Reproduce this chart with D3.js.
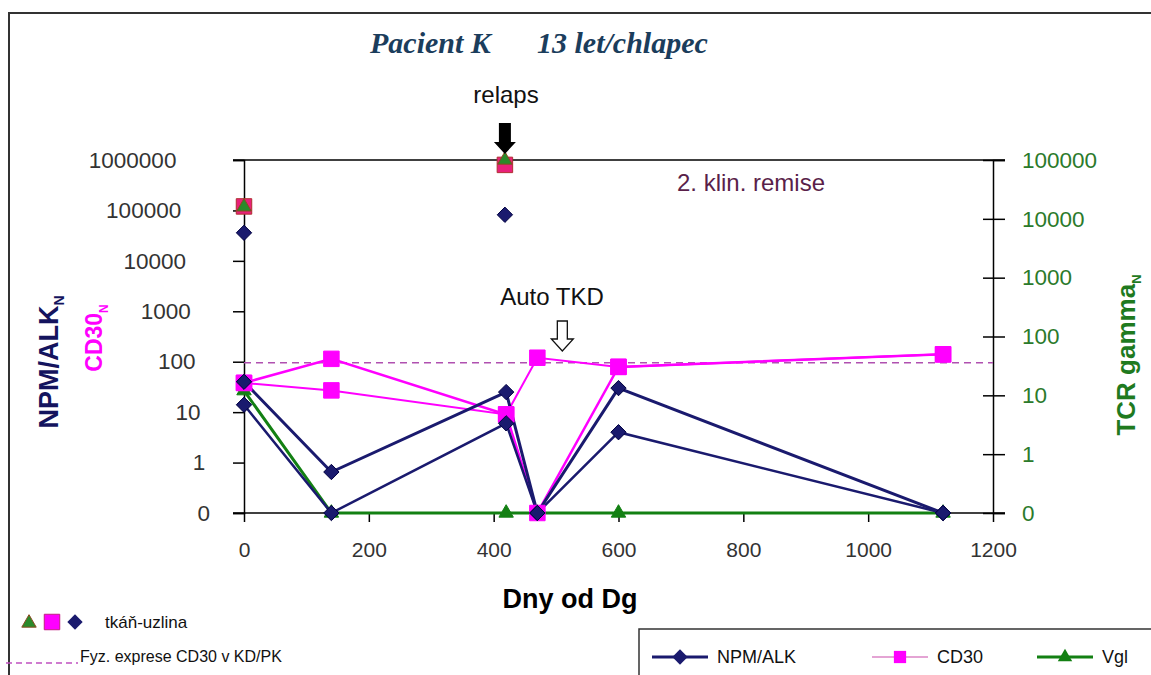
<!DOCTYPE html>
<html>
<head>
<meta charset="utf-8">
<script src="https://cdn.jsdelivr.net/npm/d3@7"></script>
<style>
  body { margin: 0; background: #fff; }
</style>
</head>
<body>
<div id="chart-area"></div>
<script>
// day points of the follow-up
var days = [0, 140, 420, 470, 600, 1120];

// two NPM/ALK series (left axis)
var npmA = [40, 0.65, 25, 0.1, 30, 0.1];
var npmB = [14, 0.1, 6, 0.1, 4, 0.1];

// two CD30 series (left axis)
var cd30A = [38, 114, 9, 0.1, 79, 140];
var cd30B = [38, 27, 9, 120, 79, 140];

// TCR gamma (right axis)
var vgl = [12, 0.1, 0.1, 0.1, 0.1, 0.1];

// tissue (lymph node) samples
var tissueDays = [0, 418];
var tissueNpm = [36000, 82000];
var tissueCd30 = [120000, 800000];
var tissueVgl = [16000, 100000];

// physiological CD30 level in KD/PK
var cd30Normal = 95;

var leftTicks = [0.1, 1, 10, 100, 1000, 10000, 100000, 1000000];
var rightTicks = [0.1, 1, 10, 100, 1000, 10000, 100000];
var xTicks = [0, 200, 400, 600, 800, 1000, 1200];

var W = 1151, H = 675;
var NAVY = "#1a1a6e", MAG = "#ff00ff", GREEN = "#138013";

var svg = d3.select("#chart-area")
    .append("svg")
    .attr("width", W)
    .attr("height", H)
    .attr("font-family", "Liberation Sans, Arial, sans-serif");

// outer frame (top + left edge of the picture)
svg.append("path")
    .attr("d", "M9,675 V13 H1151")
    .attr("fill", "none")
    .attr("stroke", "#333")
    .attr("stroke-width", 2);

var x = d3.scaleLinear().domain([0, 1200]).range([244, 993]);
var yL = d3.scaleLog().domain([0.1, 1e6]).range([513, 160]);
var yR = d3.scaleLog().domain([0.1, 1e5]).range([513, 160]);

var fmt = function (d) { return d < 1 ? "0" : String(d) };

// top border of the plot
svg.append("line")
    .attr("x1", 233).attr("x2", 1005)
    .attr("y1", yL(1e6)).attr("y2", yL(1e6))
    .attr("stroke", "#000").attr("stroke-width", 1.5);

// LEFT AXIS
var gl = svg.append("g")
    .attr("transform", "translate(244,0)")
    .call(d3.axisLeft(yL).tickValues(leftTicks).tickFormat(fmt).tickSize(11).tickPadding(30));
// labels drift leftwards going up, as in the original
gl.selectAll(".tick text")
    .attr("x", function (d) { return -34 - 4.8 * (Math.log10(d) + 1) })
    .attr("font-size", "22.5px").attr("fill", "#333");

// RIGHT AXIS
var gr = svg.append("g")
    .attr("transform", "translate(993,0)")
    .call(d3.axisRight(yR).tickValues(rightTicks).tickFormat(fmt).tickSize(12).tickPadding(17));
gr.selectAll(".tick line").attr("x1", -10);
gr.selectAll("text").attr("font-size", "22.5px").attr("fill", "#2b7a2b");

// X AXIS
var gx = svg.append("g")
    .attr("transform", "translate(0,513)")
    .call(d3.axisBottom(x).tickValues(xTicks).tickFormat(d3.format("d")).tickSize(9).tickPadding(20));
gx.selectAll("text").attr("font-size", "21px").attr("fill", "#333");
gx.select(".domain").attr("d", "M233,0H1005");

svg.selectAll(".domain").attr("stroke", "#000").attr("stroke-width", 1.5);
svg.selectAll(".tick line").attr("stroke", "#000").attr("stroke-width", 1.5);

// physiological CD30 dashed line
svg.append("line")
    .attr("x1", x(0)).attr("x2", x(1200))
    .attr("y1", yL(cd30Normal)).attr("y2", yL(cd30Normal))
    .attr("stroke", "#b050b0").attr("stroke-width", 1.5)
    .attr("stroke-dasharray", "7,5");

function series(vals) {
    return days.map(function (d, i) { return { x: d, y: vals[i] } });
}

function drawLine(vals, scale, color, w) {
    var line = d3.line()
        .x(function (d) { return x(d.x) })
        .y(function (d) { return scale(d.y) });
    svg.append("path")
        .datum(series(vals))
        .attr("d", line)
        .attr("fill", "none")
        .attr("stroke", color)
        .attr("stroke-width", w);
}

var sym = {
    diamond: d3.symbol().type(d3.symbolDiamond2).size(150),
    square: d3.symbol().type(d3.symbolSquare).size(240),
    triangle: d3.symbol().type(d3.symbolTriangle).size(90)
};

function drawMarks(xs, vals, scale, shape, fill, stroke) {
    svg.append("g").selectAll("path")
        .data(xs.map(function (d, i) { return { x: d, y: vals[i] } }))
        .enter()
        .append("path")
        .attr("transform", function (d) { return "translate(" + x(d.x) + "," + scale(d.y) + ")" })
        .attr("d", sym[shape])
        .attr("fill", fill)
        .attr("stroke", stroke)
        .attr("stroke-width", 1);
}

drawLine(vgl, yR, GREEN, 3);
drawLine(cd30A, yL, MAG, 2.5);
drawLine(cd30B, yL, MAG, 2);
drawLine(npmA, yL, NAVY, 3);
drawLine(npmB, yL, NAVY, 2.5);

drawMarks(days, vgl, yR, "triangle", GREEN, GREEN);
drawMarks(days, cd30A, yL, "square", MAG, MAG);
drawMarks(days, cd30B, yL, "square", MAG, MAG);
drawMarks(days, npmA, yL, "diamond", NAVY, "#000040");
drawMarks(days, npmB, yL, "diamond", NAVY, "#000040");

// tissue samples
drawMarks(tissueDays, tissueCd30, yL, "square", "#e8207a", "#b03030");
drawMarks(tissueDays, tissueVgl, yR, "triangle", "#2a8a2a", "#8a4a20");
drawMarks(tissueDays, tissueNpm, yL, "diamond", NAVY, "#000040");

// TITLE
var title = svg.append("text")
    .attr("y", 53)
    .attr("font-family", "Liberation Serif, serif")
    .attr("font-weight", "bold")
    .attr("font-style", "italic")
    .attr("font-size", "30px")
    .attr("fill", "#1b3d5c");
title.append("tspan").attr("x", 370).text("Pacient K");
title.append("tspan").attr("x", 537).text("13 let/chlapec");

// annotations
svg.append("text")
    .attr("x", 506).attr("y", 103)
    .attr("text-anchor", "middle")
    .attr("font-size", "24px")
    .attr("fill", "#111")
    .text("relaps");

var ax = x(418);
svg.append("path")
    .attr("d", "M" + (ax - 6) + ",123 h12 v19 h5 l-11,12 l-11,-12 h5 z")
    .attr("fill", "#000");

svg.append("text")
    .attr("x", 677).attr("y", 191)
    .attr("font-size", "24px")
    .attr("fill", "#5a1f4a")
    .text("2. klin. remise");

svg.append("text")
    .attr("x", 552).attr("y", 305)
    .attr("text-anchor", "middle")
    .attr("font-size", "24px")
    .attr("fill", "#111")
    .text("Auto TKD");

var bx = x(510);
svg.append("path")
    .attr("d", "M" + (bx - 5) + ",321 h10 v18 h6 l-11,12 l-11,-12 h6 z")
    .attr("fill", "#fff")
    .attr("stroke", "#111")
    .attr("stroke-width", 1.3);

// AXIS LABELS
var l1 = svg.append("text")
    .attr("transform", "translate(58,362) rotate(-90)")
    .attr("text-anchor", "middle")
    .attr("font-weight", "bold")
    .attr("font-size", "27px")
    .attr("fill", "#14145e");
l1.append("tspan").text("NPM/ALK");
l1.append("tspan").attr("font-size", "14px").attr("dy", 6).text("N");

var l2 = svg.append("text")
    .attr("transform", "translate(102,338) rotate(-90)")
    .attr("text-anchor", "middle")
    .attr("font-weight", "bold")
    .attr("font-size", "23px")
    .attr("fill", MAG);
l2.append("tspan").text("CD30");
l2.append("tspan").attr("font-size", "12px").attr("dy", 6).text("N");

var l3 = svg.append("text")
    .attr("transform", "translate(1135,355) rotate(-90)")
    .attr("text-anchor", "middle")
    .attr("font-weight", "bold")
    .attr("font-size", "26px")
    .attr("fill", "#1f7a1f");
l3.append("tspan").text("TCR gamma");
l3.append("tspan").attr("font-size", "13px").attr("dy", 6).text("N");

svg.append("text")
    .attr("x", 570).attr("y", 608)
    .attr("text-anchor", "middle")
    .attr("font-weight", "bold")
    .attr("font-size", "27px")
    .attr("fill", "#000")
    .text("Dny od Dg");

// bottom-left notes
var nt = svg.append("g").attr("transform", "translate(0,622)");
nt.append("path").attr("transform", "translate(29,1)").attr("d", sym.triangle).attr("fill", "#2a8a2a").attr("stroke", "#8a4a20");
nt.append("path").attr("transform", "translate(52,0)").attr("d", sym.square).attr("fill", MAG).attr("stroke", "#c02080");
nt.append("path").attr("transform", "translate(75,0)").attr("d", sym.diamond).attr("fill", NAVY);
nt.append("text").attr("x", 105).attr("y", 6).attr("font-size", "17px").attr("fill", "#111").text("tkáň-uzlina");

svg.append("line")
    .attr("x1", 6).attr("x2", 78).attr("y1", 663).attr("y2", 663)
    .attr("stroke", "#c050c0").attr("stroke-width", 1.3)
    .attr("stroke-dasharray", "6,4");
svg.append("text").attr("x", 80).attr("y", 662).attr("font-size", "16px").attr("fill", "#111")
    .text("Fyz. exprese CD30 v KD/PK");

// LEGEND
var leg = svg.append("g");
leg.append("rect")
    .attr("x", 639).attr("y", 629).attr("width", 530).attr("height", 60)
    .attr("fill", "#fff").attr("stroke", "#333").attr("stroke-width", 1.5);

var legItems = [
    { name: "NPM/ALK", color: NAVY, shape: "diamond", fill: NAVY, x0: 652 },
    { name: "CD30", color: "#e4a4d4", shape: "square", fill: MAG, x0: 872 },
    { name: "Vgl", color: GREEN, shape: "triangle", fill: GREEN, x0: 1037 }
];
legItems.forEach(function (d) {
    leg.append("line")
        .attr("x1", d.x0).attr("x2", d.x0 + 56).attr("y1", 657).attr("y2", 657)
        .attr("stroke", d.color).attr("stroke-width", d.shape == "square" ? 2 : 3);
    leg.append("path")
        .attr("transform", "translate(" + (d.x0 + 28) + ",657)")
        .attr("d", d.shape == "square" ? d3.symbol().type(d3.symbolSquare).size(150) : sym[d.shape])
        .attr("fill", d.fill);
    leg.append("text")
        .attr("x", d.x0 + 65).attr("y", 663)
        .attr("font-size", "18px").attr("fill", "#111")
        .text(d.name);
});
</script>
</body>
</html>
